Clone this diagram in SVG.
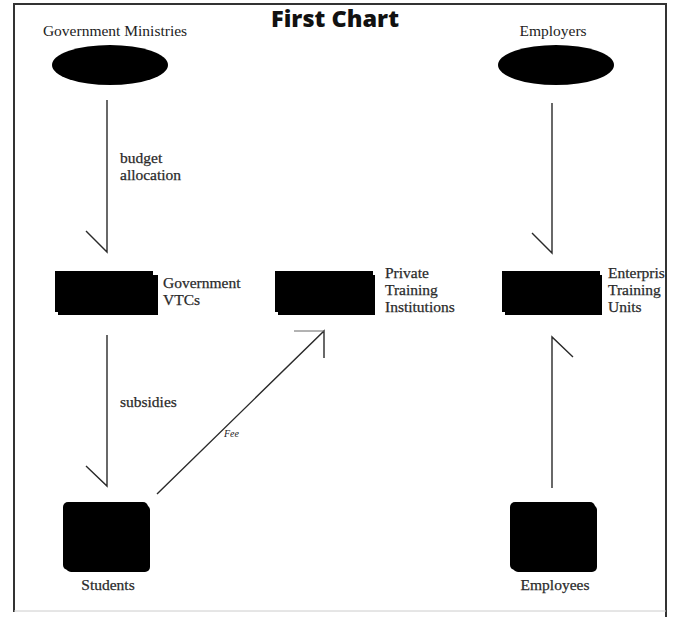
<svg xmlns="http://www.w3.org/2000/svg" width="675" height="617" viewBox="0 0 675 617">
<defs>
<clipPath id="frameClip"><rect x="14" y="4" width="651" height="608"/></clipPath>
</defs>
<style>
.lbl{font-family:"Liberation Serif","Times New Roman",serif;font-size:15.5px;fill:#222}
.sm{font-family:"Liberation Serif","Times New Roman",serif;font-size:15.5px;fill:#2a2a2a;stroke:#2a2a2a;stroke-width:0.25}
.title{font-family:"Open Sans","Liberation Sans",sans-serif;font-weight:800;font-size:23.5px;fill:#111}
.ln{stroke:#2a2a2a;stroke-width:1.4;fill:none}
.blk{fill:#000}
</style>
<rect width="675" height="617" fill="#fff"/>
<g id="frame">
<path d="M14,612 V4 H666 V617" fill="none" stroke="#333" stroke-width="2"/>
<line x1="14" y1="611" x2="666" y2="611" stroke="#ccc" stroke-width="1"/>
</g>
<text class="title" x="335" y="27" text-anchor="middle">First Chart</text>
<g id="gov-ministries">
<text class="lbl" x="115" y="36" text-anchor="middle">Government Ministries</text>
<ellipse class="blk" cx="110" cy="65" rx="58" ry="20"/>
</g>
<g id="employers">
<text class="lbl" x="553" y="36" text-anchor="middle">Employers</text>
<ellipse class="blk" cx="556" cy="65" rx="58" ry="20"/>
</g>
<g id="gov-vtcs">
<rect class="blk" x="55" y="271" width="98" height="41"/>
<rect class="blk" x="58" y="275" width="100" height="40"/>
<text class="sm" x="163" y="288">Government</text>
<text class="sm" x="163" y="305">VTCs</text>
</g>
<g id="private-training">
<rect class="blk" x="275" y="271" width="98" height="41"/>
<rect class="blk" x="278" y="275" width="97" height="40"/>
<text class="sm" x="385" y="278">Private</text>
<text class="sm" x="385" y="295">Training</text>
<text class="sm" x="385" y="312">Institutions</text>
</g>
<g id="enterprise-training">
<rect class="blk" x="502" y="271" width="98" height="41"/>
<rect class="blk" x="505" y="275" width="97" height="40"/>
<g clip-path="url(#frameClip)">
<text class="sm" x="608" y="278">Enterpris</text>
</g>
<text class="sm" x="608" y="295">Training</text>
<text class="sm" x="608" y="312">Units</text>
</g>
<g id="students">
<rect class="blk" x="63" y="502" width="85" height="68" rx="5"/>
<rect class="blk" x="66" y="505" width="84" height="67" rx="5"/>
<text class="sm" x="108" y="590" text-anchor="middle">Students</text>
</g>
<g id="employees">
<rect class="blk" x="510" y="502" width="85" height="68" rx="5"/>
<rect class="blk" x="513" y="505" width="84" height="67" rx="5"/>
<text class="sm" x="555" y="590" text-anchor="middle">Employees</text>
</g>
<g id="connectors">
<path class="ln" d="M107,100 V252 L86,231"/>
<text class="sm" x="120" y="163">budget</text>
<text class="sm" x="120" y="180">allocation</text>
<path class="ln" d="M552,103 V253 L532,233"/>
<path class="ln" d="M107,335 V486 L86,466"/>
<text class="sm" x="120" y="407">subsidies</text>
<path class="ln" d="M157,494 L324,331 V358"/>
<line x1="294" y1="331" x2="324" y2="331" stroke="#666" stroke-width="1"/>
<text x="224" y="437" font-family="Liberation Serif,serif" font-style="italic" font-size="10" fill="#222">Fee</text>
<path class="ln" d="M552,488 V337 L573,357"/>
</g>
</svg>
